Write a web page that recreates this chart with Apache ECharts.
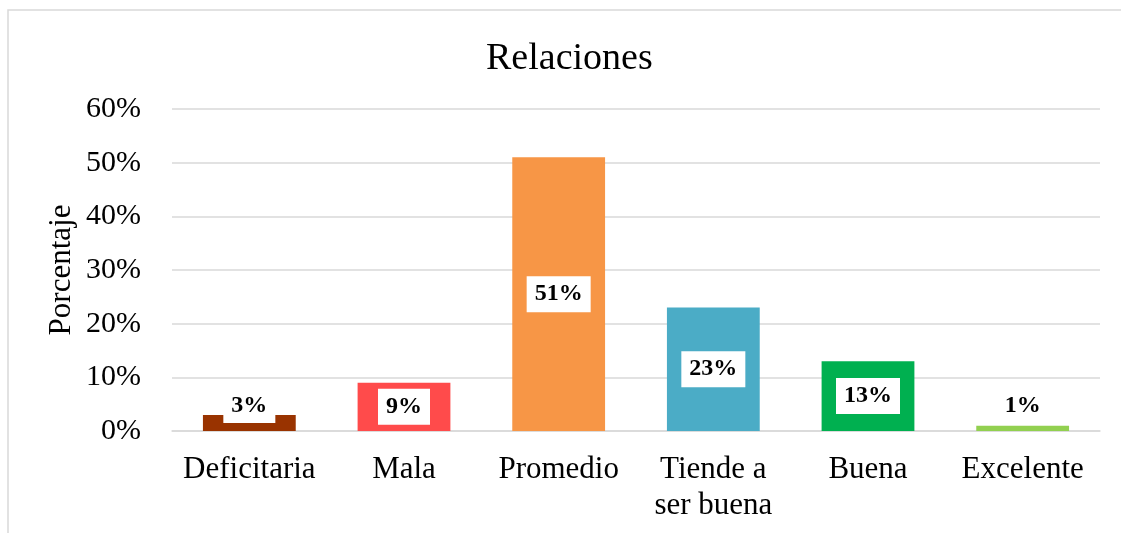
<!DOCTYPE html>
<html>
<head>
<meta charset="utf-8">
<script src="https://cdn.jsdelivr.net/npm/echarts@6/dist/echarts.min.js"></script>
<style>
  html, body { margin: 0; padding: 0; background: #fff; }
  #chart { width: 1121px; height: 533px; }
</style>
</head>
<body>
<div id="chart"></div>
<script>
// datos
const categorias = ['Deficitaria', 'Mala', 'Promedio', 'Tiende a\nser buena', 'Buena', 'Excelente'];
const porcentajes = [3, 9, 51, 23, 13, 1];
const colores = ['#993300', '#FF4B4B', '#F79646', '#4BACC6', '#00B050', '#92D050'];
const ejeY = { min: 0, max: 60, interval: 10 };

const fuente = '"Liberation Serif", "Times New Roman", serif';

const myChart = echarts.init(document.getElementById('chart'));

myChart.setOption({
    backgroundColor: '#fff',
    animation: false,
    title: {
        text: 'Relaciones',
        left: 481,
        top: 35,
        textStyle: { fontFamily: fuente, fontSize: 38, fontWeight: 'normal', color: '#000' }
    },
    graphic: [{
        type: 'rect',
        shape: { x: 8, y: 10, width: 1300, height: 700 },
        style: { fill: 'none', stroke: '#d9d9d9', lineWidth: 1.5 },
        silent: true
    }],
    grid: { left: 172, right: 21, top: 109, bottom: 102 },
    xAxis: {
        type: 'category',
        data: categorias,
        axisLine: { lineStyle: { color: '#d9d9d9', width: 1.5 } },
        axisTick: { show: false },
        axisLabel: {
            fontFamily: fuente, fontSize: 31, color: '#000',
            margin: 21, lineHeight: 36, interval: 0
        }
    },
    yAxis: {
        type: 'value',
        min: ejeY.min,
        max: ejeY.max,
        interval: ejeY.interval,
        name: 'Porcentaje',
        nameLocation: 'middle',
        nameGap: 95,
        nameMoveOverlap: false,
        nameTextStyle: { fontFamily: fuente, fontSize: 31, color: '#000' },
        axisLine: { show: false },
        axisTick: { show: false },
        splitLine: { lineStyle: { color: '#d9d9d9', width: 1.5 } },
        axisLabel: {
            fontFamily: fuente, fontSize: 30, color: '#000', margin: 31,
            formatter: '{value}%'
        }
    },
    series: [{
        type: 'bar',
        barCategoryGap: '40%',
        data: porcentajes.map((v, i) => ({
            value: v,
            itemStyle: { color: colores[i] },
            label: v < 5 ? { position: 'insideBottom', distance: 8 } : { position: 'inside' }
        })),
        label: {
            show: true,
            formatter: '{c}%',
            fontFamily: fuente,
            fontSize: 24,
            fontWeight: 'bold',
            color: '#000',
            backgroundColor: '#fff',
            padding: [7, 8, 5, 8]
        }
    }]
});
</script>
</body>
</html>
